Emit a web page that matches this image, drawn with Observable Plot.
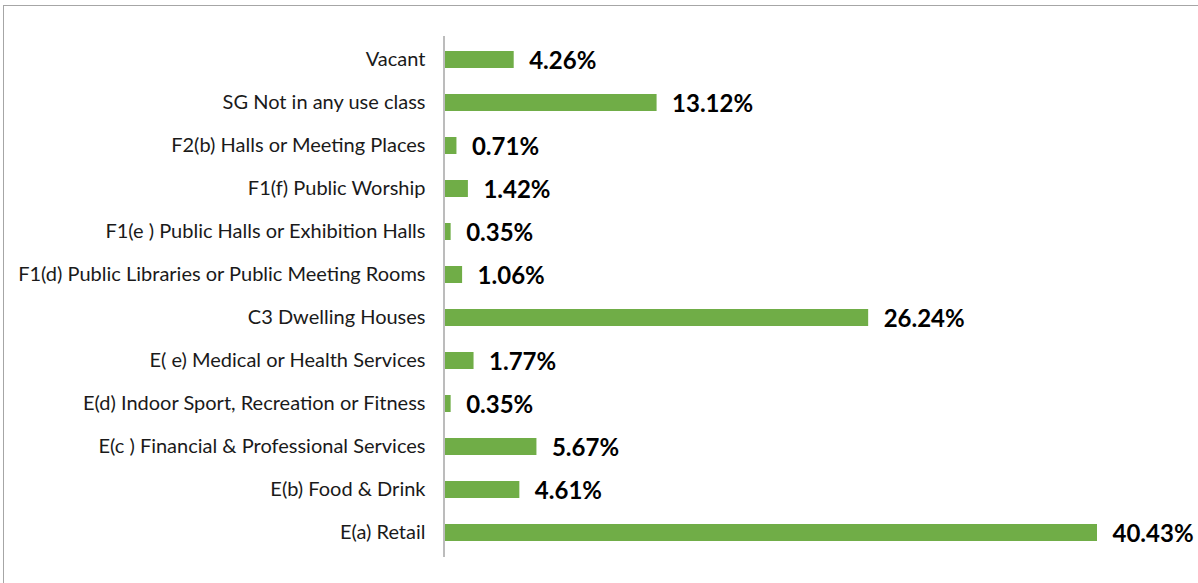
<!DOCTYPE html>
<html>
<head>
<meta charset="utf-8">
<script src="https://cdn.jsdelivr.net/npm/d3@7"></script>
<script src="https://cdn.jsdelivr.net/npm/@observablehq/plot@0.6"></script>
<style>
  html, body { margin: 0; padding: 0; background: #fff; overflow: hidden; }
  #frame { position: absolute; left: 3px; top: 5px; width: 1400px; height: 800px; border: 1.5px solid #a6a6a6; box-sizing: border-box; }
  #chart { position: absolute; left: 0; top: 0; }
</style>
</head>
<body>
<div id="frame"></div>
<div id="chart"></div>
<script>
const categories = [
  "Vacant",
  "SG Not in any use class",
  "F2(b) Halls or Meeting Places",
  "F1(f) Public Worship",
  "F1(e ) Public Halls or Exhibition Halls",
  "F1(d) Public Libraries or Public Meeting Rooms",
  "C3 Dwelling Houses",
  "E( e) Medical or Health Services",
  "E(d) Indoor Sport, Recreation or Fitness",
  "E(c ) Financial & Professional Services",
  "E(b) Food & Drink",
  "E(a) Retail"
];
const values = [4.26, 13.12, 0.71, 1.42, 0.35, 1.06, 26.24, 1.77, 0.35, 5.67, 4.61, 40.43];

const data = categories.map((c, i) => ({category: c, value: values[i]}));

const chart = Plot.plot({
  width: 1198,
  height: 583,
  marginLeft: 445,
  marginRight: 101,
  marginTop: 36,
  marginBottom: 26,
  style: {fontFamily: "Lato, sans-serif", background: "transparent"},
  x: {domain: [0, 40.43], axis: null},
  y: {domain: categories, paddingInner: 0.6, paddingOuter: 0.3, label: null},
  marks: [
    Plot.barX(data, {x: "value", y: "category", fill: "#70ad47"}),
    Plot.ruleX([0], {dx: -1.5, stroke: "#a6a6a6", strokeWidth: 1.5}),
    Plot.axisY({tickSize: 0, tickPadding: 20, fontSize: 20, fill: "#1a1a1a", label: null}),
    Plot.text(data, {
      x: "value", y: "category",
      text: d => d.value.toFixed(2) + "%",
      textAnchor: "start", dx: 15, dy: 1,
      fontSize: 24, fontWeight: "bold", fill: "#000"
    })
  ]
});
document.getElementById("chart").appendChild(chart);
</script>
</body>
</html>
